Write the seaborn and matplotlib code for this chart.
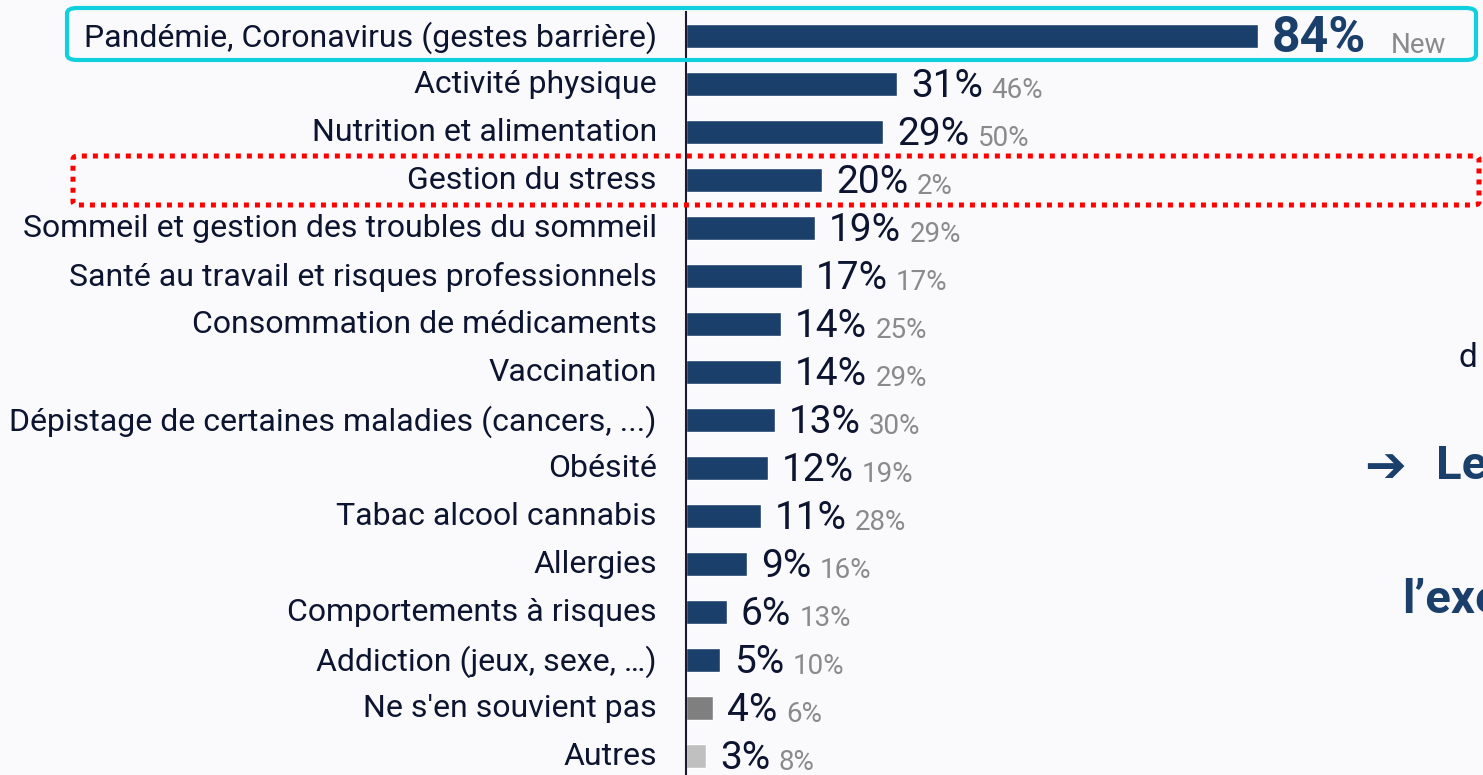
import matplotlib
matplotlib.use("Agg")
import matplotlib.pyplot as plt
import matplotlib.transforms as mtransforms
import seaborn as sns
from matplotlib.patches import FancyBboxPatch

categories = [
    "Pandémie, Coronavirus (gestes barrière)",
    "Activité physique",
    "Nutrition et alimentation",
    "Gestion du stress",
    "Sommeil et gestion des troubles du sommeil",
    "Santé au travail et risques professionnels",
    "Consommation de médicaments",
    "Vaccination",
    "Dépistage de certaines maladies (cancers, ...)",
    "Obésité",
    "Tabac alcool cannabis",
    "Allergies",
    "Comportements à risques",
    "Addiction (jeux, sexe, …)",
    "Ne s'en souvient pas",
    "Autres",
]
values = [84, 31, 29, 20, 19, 17, 14, 14, 13, 12, 11, 9, 6, 5, 4, 3]
previous = ["New", "46%", "50%", "2%", "29%", "17%", "25%", "29%", "30%",
            "19%", "28%", "16%", "13%", "10%", "6%", "8%"]

NAVY = "#1b3f6b"
bar_colors = [NAVY] * 14 + ["#7f7f7f", "#c0c0c0"]
BG = "#fafafd"
TXT = "#0d1430"

sns.set_theme(style="white")
plt.rcParams["font.family"] = ["Roboto", "DejaVu Sans"]

W, H = 1483, 775
fig = plt.figure(figsize=(W / 100, H / 100), dpi=100, facecolor=BG)
ax = fig.add_axes([686 / W, 0, (W - 686) / W, (H - 12) / H])
ax.set_facecolor(BG)

sns.barplot(x=values, y=categories, hue=categories, palette=bar_colors,
            legend=False, width=0.5, orient="h", ax=ax, saturation=1)

ax.set_xlim(0, (W - 686) / 6.81)
ax.set_ylim(15.396, -0.5)
ax.set_xlabel("")
ax.set_ylabel("")
ax.set_xticks([])
for s in ["top", "right", "bottom"]:
    ax.spines[s].set_visible(False)
ax.spines["left"].set_color("#1a1a2e")
ax.spines["left"].set_linewidth(1.5)
ax.tick_params(axis="y", length=0, pad=21, labelsize=23, labelcolor=TXT)
shift_up = mtransforms.ScaledTranslation(0, 2 / 100, fig.dpi_scale_trans)
for lab in ax.get_yticklabels():
    lab.set_transform(lab.get_transform() + shift_up)

for i, (v, p) in enumerate(zip(values, previous)):
    if i == 0:
        t = ax.annotate(f"{v}%", xy=(v, i), xytext=(10, -1.5), textcoords="offset points",
                        va="center", ha="left", fontsize=36, fontweight="bold", color=NAVY)
        gap = 18
        dy = 2
    else:
        t = ax.annotate(f"{v}%", xy=(v, i), xytext=(10, -2), textcoords="offset points",
                        va="center", ha="left", fontsize=28, color=TXT)
        gap = 6
        dy = 1
    ax.annotate(p, xy=(1, 0), xycoords=t, xytext=(gap, dy), textcoords="offset points",
                va="bottom", ha="left", fontsize=20, color="#8a8a8a")

# highlight boxes
def px_box(x0, y0, x1, y1, **kw):
    return FancyBboxPatch((x0 / W, 1 - y1 / H), (x1 - x0) / W, (y1 - y0) / H,
                          transform=fig.transFigure, fill=False, **kw)

fig.patches.append(px_box(67, 8, 1476, 60, boxstyle="round,pad=0,rounding_size=0.007",
                          edgecolor="#0fd0dc", linewidth=3))
fig.patches.append(px_box(73, 156, 1479, 205, boxstyle="round,pad=0,rounding_size=0.004",
                          edgecolor="#ff0000", linewidth=3.6, linestyle=(0, (1, 1.2))))

# cut-off slide text on the right
fig.text(1458 / W, 1 - 358 / H, "d", fontsize=24, color=TXT, va="center", ha="left")
fig.text(1364 / W, 1 - 468 / H, "➔", fontsize=36, color=NAVY, fontweight="bold",
         va="center", ha="left", family=["DejaVu Sans"])
fig.text(1436 / W, 1 - 466 / H, "Le", fontsize=34, color=NAVY, fontweight="bold",
         va="center", ha="left")
fig.text(1402 / W, 1 - 600 / H, "l’exe", fontsize=34, color=NAVY, fontweight="bold",
         va="center", ha="left")

fig.savefig("out.png", dpi=100, facecolor=BG)
